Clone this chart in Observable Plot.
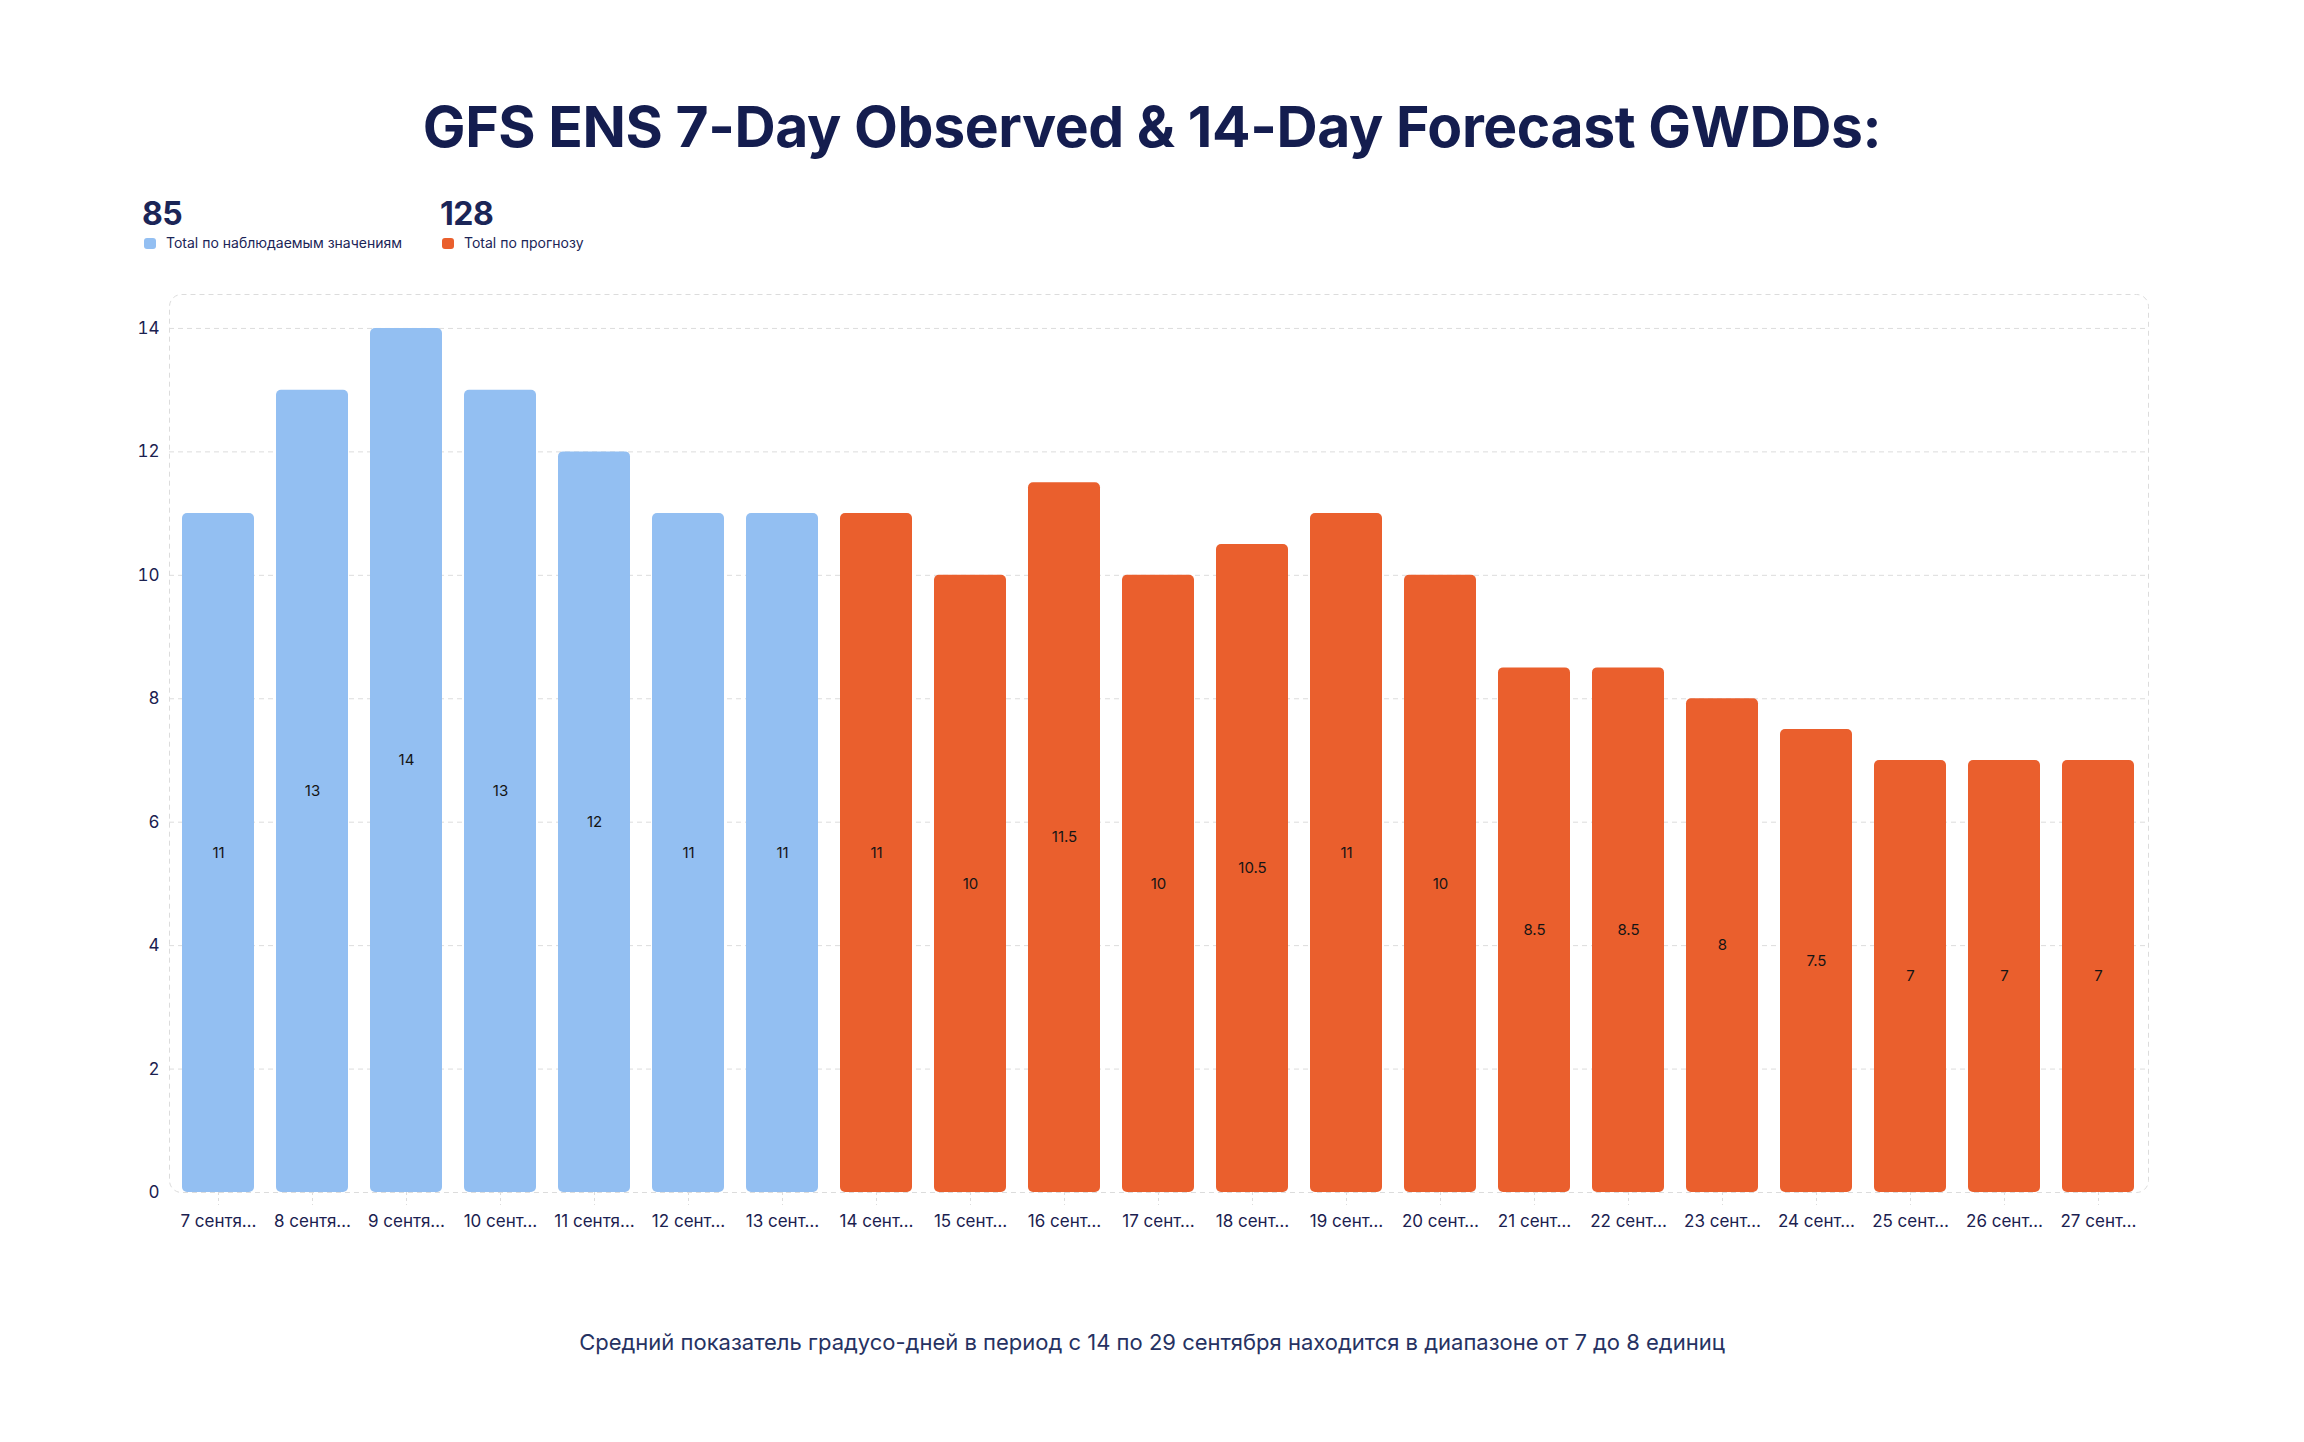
<!DOCTYPE html>
<html>
<head>
<meta charset="utf-8">
<script src="https://cdn.jsdelivr.net/npm/d3@7"></script>
<script src="https://cdn.jsdelivr.net/npm/@observablehq/plot@0.6"></script>
<style>
  html, body { margin: 0; padding: 0; background: #ffffff; }
  body { width: 2304px; height: 1442px; position: relative; overflow: hidden; font-family: Inter, "Noto Sans", sans-serif; }
  .title { position: absolute; top: 98px; left: 0; width: 2304px; text-align: center; font-size: 57px; line-height: 1; font-weight: 700; color: #141d4f; letter-spacing: -0.4px; }
  .kpi { position: absolute; top: 198px; font-size: 32px; line-height: 1; font-weight: 700; color: #1b2557; letter-spacing: -0.5px; }
  .leg { position: absolute; top: 236px; font-size: 14px; line-height: 1; color: #1b2557; white-space: nowrap; }
  .sw { position: absolute; top: 238px; width: 12px; height: 11px; border-radius: 3px; }
  .caption { position: absolute; top: 1331px; left: 0; width: 2304px; text-align: center; font-size: 22px; line-height: 1; color: #263262; }
  #chart { position: absolute; top: 260px; left: 0; }
</style>
</head>
<body>
<div class="title" id="title"></div>
<div class="kpi" id="kpi1" style="left:142px"></div>
<div class="sw" id="sw1" style="left:144px"></div>
<div class="leg" id="leg1" style="left:166px"></div>
<div class="kpi" id="kpi2" style="left:440px"></div>
<div class="sw" id="sw2" style="left:442px"></div>
<div class="leg" id="leg2" style="left:464px"></div>
<div id="chart"></div>
<div class="caption" id="caption"></div>
<script>
// ---- data ----
const titleText = "GFS ENS 7-Day Observed & 14-Day Forecast GWDDs:";
const captionText = "Средний показатель градусо-дней в период с 14 по 29 сентября находится в диапазоне от 7 до 8 единиц";
const seriesNames = ["Total по наблюдаемым значениям", "Total по прогнозу"];
const seriesTotals = [85, 128];
const seriesColors = ["#93bff2", "#ea5f2d"];

const dates = ["7 сентября", "8 сентября", "9 сентября", "10 сентября", "11 сентября", "12 сентября", "13 сентября",
  "14 сентября", "15 сентября", "16 сентября", "17 сентября", "18 сентября", "19 сентября", "20 сентября",
  "21 сентября", "22 сентября", "23 сентября", "24 сентября", "25 сентября", "26 сентября", "27 сентября"];
const tickLabels = ["7 сентя…", "8 сентя…", "9 сентя…", "10 сент…", "11 сентя…", "12 сент…", "13 сент…",
  "14 сент…", "15 сент…", "16 сент…", "17 сент…", "18 сент…", "19 сент…", "20 сент…",
  "21 сент…", "22 сент…", "23 сент…", "24 сент…", "25 сент…", "26 сент…", "27 сент…"];
const values = [11, 13, 14, 13, 12, 11, 11,
  11, 10, 11.5, 10, 10.5, 11, 10, 8.5, 8.5, 8, 7.5, 7, 7, 7];
const types = ["obs", "obs", "obs", "obs", "obs", "obs", "obs",
  "fc", "fc", "fc", "fc", "fc", "fc", "fc", "fc", "fc", "fc", "fc", "fc", "fc", "fc"];
const yTicks = [0, 2, 4, 6, 8, 10, 12, 14];

// ---- build ----
const data = dates.map((d, i) => ({date: d, value: values[i], type: types[i]}));
const labelOf = new Map(dates.map((d, i) => [d, tickLabels[i]]));

document.getElementById("title").textContent = titleText;
document.getElementById("caption").textContent = captionText;
document.getElementById("kpi1").textContent = seriesTotals[0];
document.getElementById("kpi2").textContent = seriesTotals[1];
document.getElementById("leg1").textContent = seriesNames[0];
document.getElementById("leg2").textContent = seriesNames[1];
document.getElementById("sw1").style.background = seriesColors[0];
document.getElementById("sw2").style.background = seriesColors[1];

const navy = "#1b2150";
const gridColor = "#dcdcdc";

const chart = Plot.plot({
  width: 2304,
  height: 1020,
  marginTop: 34,
  marginBottom: 88,
  marginLeft: 169,
  marginRight: 156,
  style: {fontFamily: "Inter, 'Noto Sans', sans-serif", background: "transparent", overflow: "visible"},
  x: {domain: dates, paddingInner: 0.234, paddingOuter: 0.117, label: null},
  y: {domain: [0, 14.55], label: null},
  color: {domain: ["obs", "fc"], range: seriesColors},
  marks: [
    Plot.gridY(yTicks.filter(v => v > 0), {stroke: gridColor, strokeOpacity: 1, strokeDasharray: "5,4", strokeWidth: 1}),
    Plot.frame({stroke: gridColor, strokeDasharray: "5,4", rx: 12, strokeWidth: 1}),
    Plot.barY(data, {x: "date", y: "value", fill: "type", rx: 5}),
    Plot.text(data, {x: "date", y: d => d.value / 2, text: d => String(d.value), fontSize: 15, fill: "#151515"}),
    Plot.axisY(yTicks, {tickSize: 0, tickPadding: 10, fontSize: 17, fill: navy, label: null, tickFormat: d => String(d)}),
    Plot.axisX({tickSize: 13, tickPadding: 9, fontSize: 17, fill: navy, stroke: gridColor, strokeDasharray: "3,3", tickFormat: d => labelOf.get(d), label: null})
  ]
});
document.getElementById("chart").appendChild(chart);
</script>
</body>
</html>
